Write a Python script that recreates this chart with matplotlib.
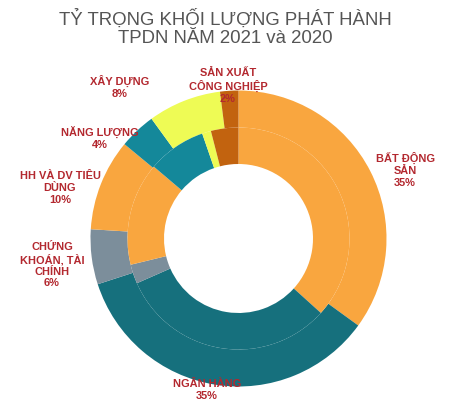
import matplotlib
matplotlib.use("Agg")
import matplotlib.pyplot as plt

# ---- data ----
categories = ["BẤT ĐỘNG\nSẢN", "NGÂN HÀNG", "CHỨNG\nKHOÁN, TÀI\nCHÍNH", "HH VÀ DV TIÊU\nDÙNG",
              "NĂNG LƯỢNG", "XÂY DỰNG", "SẢN XUẤT\nCÔNG NGHIỆP"]
share_2021 = [35, 35, 6, 10, 4, 8, 2]                 # outer ring (labelled)
share_2020 = [36.7, 31.7, 2.8, 15.0, 8.5, 1.3, 4.0]   # inner ring (estimated)
title_text = "TỶ TRỌNG KHỐI LƯỢNG PHÁT HÀNH\nTPDN NĂM 2021 và 2020"

# ---- style ----
colors = ["#F9A63F", "#16707D", "#7C8E9B", "#F9A63F", "#14889A", "#EEFB55", "#C2630F"]
label_color = "#B3282F"
W, H = 450, 417
cx, cy = 238.5, H - 238.5
r_out, r_mid, r_in = 148, 111, 74.5
# label anchor positions (pixels, from top-left)
label_pos = [(405, 170), (207, 390), (52, 265), (60, 188), (100, 138), (120, 87), (228, 86)]

fig = plt.figure(figsize=(W / 100, H / 100), dpi=100)
ax = fig.add_axes([0, 0, 1, 1])

ax.pie(share_2021, colors=colors, radius=r_out, center=(cx, cy), startangle=90,
       counterclock=False, wedgeprops=dict(width=r_out - r_mid, linewidth=0))
ax.pie(share_2020, colors=colors, radius=r_mid, center=(cx, cy), startangle=90,
       counterclock=False, wedgeprops=dict(width=r_mid - r_in, linewidth=0))

ax.set_xlim(0, W)
ax.set_ylim(0, H)
ax.set_aspect("auto")
ax.axis("off")

for name, val, (px, py) in zip(categories, share_2021, label_pos):
    ax.text(px, H - py, f"{name}\n{val}%", ha="center", va="center",
            fontsize=7.9, fontweight="bold", color=label_color,
            family="Liberation Sans", linespacing=1.2)

fig.text(0.5, 1 - 28 / H, title_text, ha="center", va="center", fontsize=13.4,
         color="#555555", family="Liberation Sans", linespacing=1.12)

fig.savefig("out.png", dpi=100, facecolor="white")
